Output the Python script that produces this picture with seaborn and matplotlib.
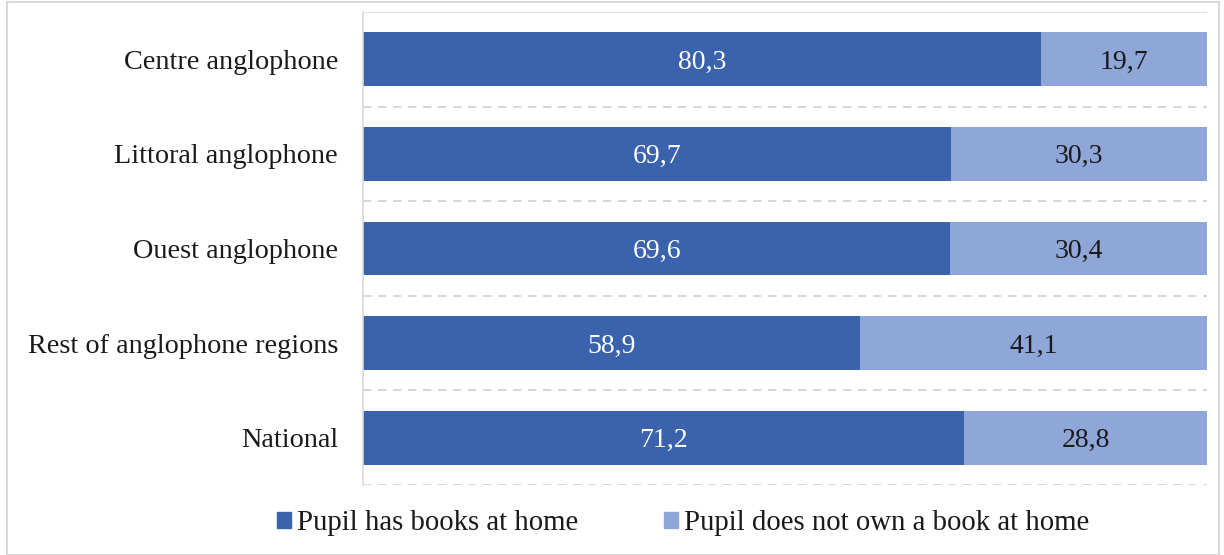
import matplotlib
matplotlib.use("Agg")
import matplotlib.pyplot as plt
import seaborn as sns
import pandas as pd
from matplotlib.patches import Rectangle, Patch

# data
regions = ['Centre anglophone', 'Littoral anglophone', 'Ouest anglophone',
           'Rest of anglophone regions', 'National']
has_books = [80.3, 69.7, 69.6, 58.9, 71.2]
no_books = [19.7, 30.3, 30.4, 41.1, 28.8]
series_names = ['Pupil has books at home', 'Pupil does not own a book at home']

dark_blue = '#3A62AD'
light_blue = '#8FA6D8'

df = pd.DataFrame({'region': regions, 'has': has_books, 'no': no_books})
df['total'] = df['has'] + df['no']

sns.set_theme(style="white")
plt.rcParams['font.family'] = ['Liberation Serif', 'DejaVu Serif']

fig = plt.figure(figsize=(12.24, 5.55), dpi=100)
ax = fig.add_axes([363 / 1224, 1 - 485 / 555, (1207 - 363) / 1224, (485 - 12) / 555])

# stacked bars: draw the total first, then the first series on top
sns.barplot(data=df, y='region', x='total', color=light_blue, orient='h',
            width=0.57, ax=ax, saturation=1, linewidth=0)
sns.barplot(data=df, y='region', x='has', color=dark_blue, orient='h',
            width=0.57, ax=ax, saturation=1, linewidth=0)

# value labels
for i, (a, b) in enumerate(zip(has_books, no_books)):
    ax.text(a / 2, i, f'{a:.1f}'.replace('.', ','), ha='center', va='center_baseline',
            color='white', fontsize=20)
    ax.text(a + b / 2, i, f'{b:.1f}'.replace('.', ','), ha='center', va='center_baseline',
            color='#1a1a1a', fontsize=20)

ax.set_xlim(0, 100)
ax.set_ylim(4.5, -0.5)
ax.set_xlabel('')
ax.set_ylabel('')
ax.set_xticks([])
ax.tick_params(axis='y', length=0, pad=18, labelsize=20.3, labelcolor='#1a1a1a')

# dashed lines between categories
for yb in [0.5, 1.5, 2.5, 3.5, 4.5]:
    ax.axhline(yb, color='#cfcfcf', lw=1.2, ls=(0, (5, 4)), zorder=0)
ax.axhline(-0.5, color='#dcdcdc', lw=1.2, zorder=0)

for s in ['top', 'right', 'bottom']:
    ax.spines[s].set_visible(False)
ax.spines['left'].set_color('#d9d9d9')
ax.spines['left'].set_linewidth(1.2)

handles = [Patch(color=dark_blue), Patch(color=light_blue)]
fig.legend(handles, series_names, loc='center', bbox_to_anchor=(683 / 1224, 1 - 523 / 555),
           ncol=2, frameon=False, fontsize=20.7, handlelength=0.48, handleheight=0.48,
           handletextpad=0.2, columnspacing=3.0, labelcolor='#1a1a1a')

# light frame around the whole chart
fig.patches.append(Rectangle((7 / 1224, 0.0), 1 - 12 / 1224, 1 - 2 / 555,
                             transform=fig.transFigure, fill=False,
                             edgecolor='#d9d9d9', lw=1.5))

fig.savefig('out.png', dpi=100)
